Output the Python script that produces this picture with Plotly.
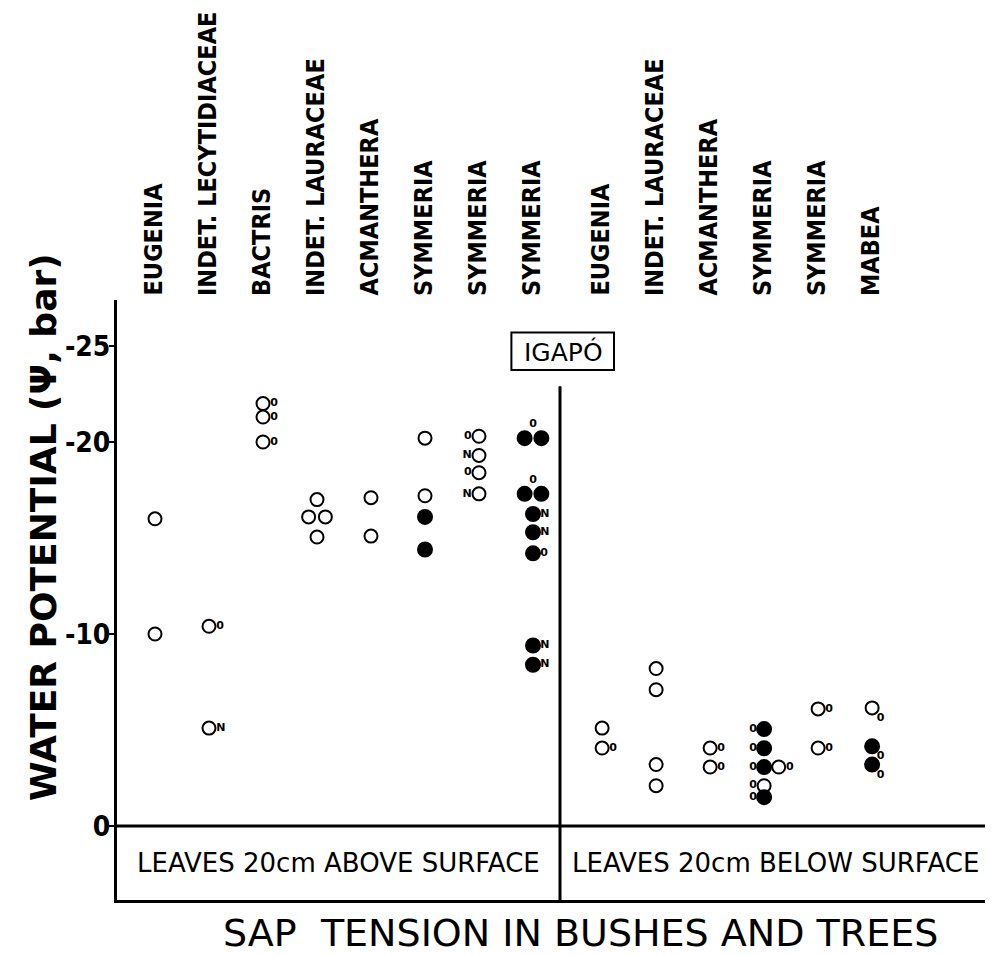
import plotly.graph_objects as go

# ---------------- data ----------------
species_above = ["EUGENIA", "INDET. LECYTIDIACEAE", "BACTRIS", "INDET. LAURACEAE",
                 "ACMANTHERA", "SYMMERIA", "SYMMERIA", "SYMMERIA"]
species_below = ["EUGENIA", "INDET. LAURACEAE", "ACMANTHERA", "SYMMERIA",
                 "SYMMERIA", "MABEA"]
categories = species_above + species_below

# column index (into categories), water potential (bar), filled marker, label, label side
pt_col = [0, 0,
          1, 1,
          2, 2, 2,
          3, 3, 3, 3,
          4, 4,
          5, 5, 5, 5,
          6, 6, 6, 6,
          7, 7, 7, 7, 7, 7, 7, 7, 7,
          8, 8,
          9, 9, 9, 9,
          10, 10,
          11, 11, 11, 11, 11, 11,
          12, 12,
          13, 13, 13]
pt_psi = [-16.0, -10.0,
          -10.4, -5.1,
          -22.0, -21.3, -20.0,
          -17.0, -16.1, -16.1, -15.05,
          -17.1, -15.1,
          -20.2, -17.2, -16.1, -14.4,
          -20.3, -19.3, -18.4, -17.3,
          -20.2, -20.2, -17.3, -17.3, -16.25, -15.3, -14.2, -9.4, -8.4,
          -5.1, -4.06,
          -8.2, -7.1, -3.2, -2.1,
          -4.06, -3.07,
          -5.05, -4.05, -3.07, -3.07, -2.1, -1.5,
          -6.1, -4.06,
          -6.15, -4.15, -3.2]
pt_filled = [0, 0,
             0, 0,
             0, 0, 0,
             0, 0, 0, 0,
             0, 0,
             0, 0, 1, 1,
             0, 0, 0, 0,
             1, 1, 1, 1, 1, 1, 1, 1, 1,
             0, 0,
             0, 0, 0, 0,
             0, 0,
             1, 1, 1, 0, 0, 1,
             0, 0,
             0, 1, 1]
pt_label = ["", "",
            "0", "N",
            "0", "0", "0",
            "", "", "", "",
            "", "",
            "", "", "", "",
            "0", "N", "0", "N",
            "0", "", "0", "", "N", "N", "0", "N", "N",
            "", "0",
            "", "", "", "",
            "0", "0",
            "0", "0", "0", "0", "0", "0",
            "0", "0",
            "0", "0", "0"]
pt_side = ["", "",
           "r", "r",
           "r", "r", "r",
           "", "", "", "",
           "", "",
           "", "", "", "",
           "l", "l", "l", "l",
           "t", "", "t", "", "r", "r", "r", "r", "r",
           "", "r",
           "", "", "", "",
           "r", "r",
           "l", "l", "l", "r", "l", "l",
           "r", "r",
           "br", "br", "br"]

y_ticks = [-25, -20, -10, 0]
y_ticktext = ["-25", "-20", "-10", "0"]

# ---------------- layout helpers ----------------
N_ABOVE = len(species_above)
GAP = 0.28


def col_x(i):
    return i if i < N_ABOVE else i + GAP


# dodge points sharing the same column and value
groups = {}
for k, (c, v) in enumerate(zip(pt_col, pt_psi)):
    groups.setdefault((c, round(v, 2)), []).append(k)
pt_x = [0.0] * len(pt_col)
for (c, v), idx in groups.items():
    if len(idx) == 1:
        pt_x[idx[0]] = col_x(c)
    else:
        same_fill = len({pt_filled[k] for k in idx}) == 1
        for j, k in enumerate(idx):
            if same_fill:
                off = (j - (len(idx) - 1) / 2) * 0.31
            else:
                off = j * 0.27
            pt_x[k] = col_x(c) + off

FONT = "DejaVu Sans"
FONT_C = "DejaVu Sans Condensed, DejaVu Sans"
fig = go.Figure()

# markers
for filled in (0, 1):
    xs = [pt_x[k] for k in range(len(pt_x)) if pt_filled[k] == filled]
    ys = [pt_psi[k] for k in range(len(pt_x)) if pt_filled[k] == filled]
    fig.add_trace(go.Scatter(
        x=xs, y=ys, mode="markers", hoverinfo="skip", showlegend=False,
        marker=dict(symbol="circle" if filled else "circle-open",
                    size=14 if filled else 13, color="black",
                    line=dict(width=2, color="black"))))

# small letter labels
pos_map = {"r": "middle right", "l": "middle left", "br": "bottom right"}
for side, pos in pos_map.items():
    ks = [k for k in range(len(pt_x)) if pt_side[k] == side and pt_label[k]]
    fig.add_trace(go.Scatter(
        x=[pt_x[k] for k in ks], y=[pt_psi[k] for k in ks],
        text=[pt_label[k] for k in ks], mode="markers+text",
        textposition=pos, hoverinfo="skip", showlegend=False,
        marker=dict(size=10 if side != "br" else 6, opacity=0),
        textfont=dict(family=FONT, size=11, color="black", weight="bold")))

# labels above a pair of markers
tk = [k for k in range(len(pt_x)) if pt_side[k] == "t"]
tx = []
for k in tk:
    idx = groups[(pt_col[k], round(pt_psi[k], 2))]
    tx.append(sum(pt_x[j] for j in idx) / len(idx))
fig.add_trace(go.Scatter(
    x=tx, y=[pt_psi[k] for k in tk], text=[pt_label[k] for k in tk],
    mode="markers+text", textposition="top center", hoverinfo="skip",
    showlegend=False, marker=dict(size=12, opacity=0),
    textfont=dict(family=FONT, size=11, color="black", weight="bold")))

# geometry (screen pixels; the page body adds an 8px margin)
OFF = 8
SCR_W, SCR_H = 993, 955
W, H = SCR_W - OFF, SCR_H - OFF
PLOT_L, PLOT_R, PLOT_T, PLOT_B = 117, 990, 300, 900   # screen coordinates
L = PLOT_L - OFF
R = W - (PLOT_R - OFF)
T = PLOT_T - OFF
B = H - (PLOT_B - OFF)
plot_w = W - L - R
plot_h = H - T - B

PX_PER_COL = 54.0
X0_PX = 155.0          # screen x of first column
x_left = (PLOT_L - X0_PX) / PX_PER_COL
x_right = x_left + plot_w / PX_PER_COL
PX_PER_BAR = 19.2
ZERO_PX = 826.0        # screen y of psi = 0
y_bottom = (PLOT_B - ZERO_PX) / PX_PER_BAR
y_top = -(ZERO_PX - PLOT_T) / PX_PER_BAR


def paper_x(sx):
    return (sx - PLOT_L) / plot_w


def paper_y(sy):
    return (PLOT_B - sy) / plot_h


annotations = []
# species names on top
for i, name in enumerate(categories):
    annotations.append(dict(
        x=col_x(i), xref="x", y=1, yref="paper", xanchor="center", yanchor="bottom",
        text=name, textangle=-90, showarrow=False, xshift=-2, yshift=2,
        font=dict(family=FONT_C, size=25, color="black", weight="bold")))

divider_x = N_ABOVE - 0.5
annotations += [
    dict(x=(x_left + divider_x) / 2, y=y_bottom / 2, xref="x", yref="y",
         xanchor="center", yanchor="middle",
         text="LEAVES 20cm ABOVE SURFACE", showarrow=False,
         font=dict(family=FONT, size=26, color="black")),
    dict(x=(divider_x + x_right) / 2, y=y_bottom / 2, xref="x", yref="y",
         xanchor="center", yanchor="middle",
         text="LEAVES 20cm BELOW SURFACE", showarrow=False,
         font=dict(family=FONT, size=26, color="black")),
    dict(x=paper_x(580), y=paper_y(933), xref="paper", yref="paper",
         xanchor="center", yanchor="middle",
         text="SAP\u00a0 TENSION IN BUSHES AND TREES", showarrow=False,
         font=dict(family=FONT, size=38, color="black")),
    dict(x=paper_x(43), y=paper_y(527), xref="paper", yref="paper",
         xanchor="center", yanchor="middle",
         text="WATER POTENTIAL (Ψ, bar)", textangle=-90, showarrow=False,
         font=dict(family=FONT, size=36, color="black", weight="bold")),
    dict(x=divider_x + 0.06, y=-24.7, xref="x", yref="y", text="IGAPÓ",
         xanchor="center", yanchor="middle",
         showarrow=False, font=dict(family=FONT, size=25, color="black")),
]

shapes = [
    dict(type="line", xref="paper", yref="y", x0=0, x1=1, y0=0, y1=0,
         line=dict(color="black", width=3)),
    dict(type="line", xref="x", yref="y", x0=divider_x, x1=divider_x,
         y0=y_bottom, y1=-22.9, line=dict(color="black", width=3)),
    dict(type="rect", xref="x", yref="y", x0=divider_x - 0.9, x1=divider_x + 1.0,
         y0=-23.75, y1=-25.7, line=dict(color="black", width=2)),
]

fig.update_layout(
    width=W, height=H, margin=dict(l=L, r=R, t=T, b=B, autoexpand=False),
    paper_bgcolor="white", plot_bgcolor="white",
    showlegend=False, annotations=annotations, shapes=shapes,
    xaxis=dict(range=[x_left, x_right], showgrid=False, zeroline=False,
               showticklabels=False, ticks="", showline=True,
               linecolor="black", linewidth=3, mirror=False),
    yaxis=dict(range=[y_bottom, y_top], showgrid=False, zeroline=False,
               tickvals=y_ticks, ticktext=y_ticktext, ticks="outside",
               ticklen=5, tickwidth=2, tickcolor="black", ticklabelstandoff=-7,
               tickfont=dict(family=FONT_C, size=28, color="black", weight="bold"),
               showline=True, linecolor="black", linewidth=3, mirror=True),
)

fig.write_html("out.html")
